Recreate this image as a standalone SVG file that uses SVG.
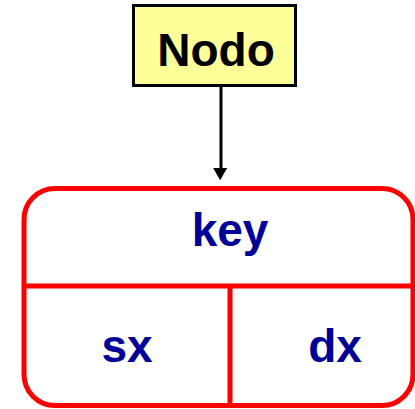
<svg xmlns="http://www.w3.org/2000/svg" width="415" height="409" viewBox="0 0 415 409">
<defs>
<style>
.t{font-family:"Liberation Sans",Arial,sans-serif;font-weight:bold;font-size:46px;text-anchor:middle}
.b{fill:#000099}
.r{fill:none;stroke:#ff0000;stroke-width:5}
</style>
<marker id="ah" markerWidth="16" markerHeight="14" refX="0" refY="7" orient="auto" markerUnits="userSpaceOnUse" viewBox="0 0 14 16">
<path d="M0,0 L14,8 L0,16 Z" fill="#000"/>
</marker>
</defs>
<g id="nodo">
<rect x="133.5" y="5.5" width="162" height="80" fill="#ffff99" stroke="#000" stroke-width="3"/>
<text class="t" x="216" y="66" fill="#000">Nodo</text>
</g>
<g id="connectors">
<line x1="221" y1="87" x2="221" y2="168" stroke="#000" stroke-width="3" marker-end="url(#ah)"/>
</g>
<g id="record">
<rect class="r" x="24" y="188.5" width="389" height="217" rx="31" ry="31"/>
<line class="r" x1="24" y1="286" x2="413" y2="286"/>
<line class="r" x1="230" y1="286" x2="230" y2="405.5"/>
<text class="t b" x="230" y="246">key</text>
<text class="t b" x="127" y="362">sx</text>
<text class="t b" x="335" y="362">dx</text>
</g>
</svg>
